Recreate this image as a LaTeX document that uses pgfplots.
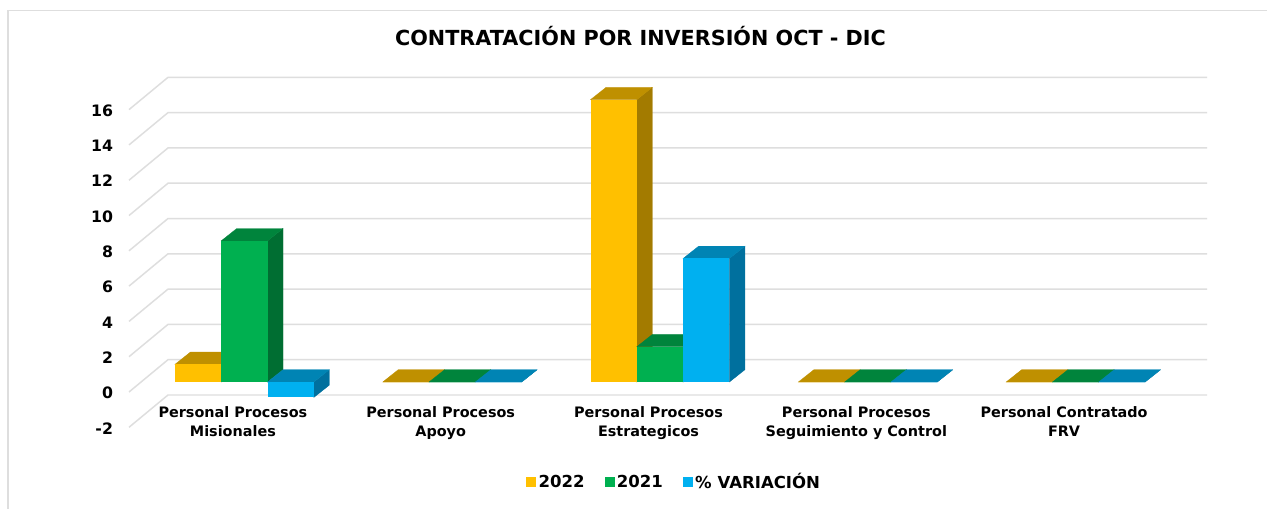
\documentclass[border=0pt]{standalone}
\usepackage{pgfplots}
\pgfplotsset{compat=1.18}
\usepackage{fontspec}
\setmainfont{DejaVu Sans}
\definecolor{yfront}{HTML}{FFC000}
\definecolor{ytop}{HTML}{BF9000}
\definecolor{yside}{HTML}{A37B00}
\definecolor{gfront}{HTML}{00B050}
\definecolor{gtop}{HTML}{00843C}
\definecolor{gside}{HTML}{006E32}
\definecolor{bfront}{HTML}{00B0F0}
\definecolor{btop}{HTML}{0084B4}
\definecolor{bside}{HTML}{00709E}
\definecolor{gridc}{HTML}{DEDEDE}

% sizes: x unit is one category (207.8 px), y unit is one value step (17.65 px)
\def\barw{0.2228}   % bar width
\def\depx{0.0746}   % bar depth, x
\def\depy{0.697}    % bar depth, y
\def\basey{0.565}   % bar plane above the front edge
\def\wallx{0.1877}  % wall depth, x
\def\wally{1.83}    % wall depth, y

% \barface{category}{series 0,1,2}{value}{colour prefix}
\newcommand{\barface}[4]{%
  \pgfmathsetmacro\xa{#1-0.279+#2*\barw}%
  \pgfmathsetmacro\xb{\xa+\barw}%
  \pgfmathsetmacro\xc{\xb+\depx}%
  \pgfmathsetmacro\xd{\xa+\depx}%
  \pgfmathsetmacro\yt{max(#3,0)+\basey}%
  \pgfmathsetmacro\yb{min(#3,0)+\basey}%
  \pgfmathsetmacro\ytt{\yt+\depy}%
  \pgfmathsetmacro\ybb{\yb+\depy}%
  \edef\temp{%
    \noexpand\addplot[forget plot, fill=#4side, draw=#4side, line width=0.2pt] coordinates {(\xb,\yb) (\xc,\ybb) (\xc,\ytt) (\xb,\yt)} -- cycle;
    \noexpand\addplot[forget plot, fill=#4top, draw=#4top, line width=0.2pt] coordinates {(\xa,\yt) (\xd,\ytt) (\xc,\ytt) (\xb,\yt)} -- cycle;
    \noexpand\addplot[forget plot, fill=#4front, draw=none] coordinates {(\xa,\yb) (\xa,\yt) (\xb,\yt) (\xb,\yb)} -- cycle;
  }\temp
}
% \gridl{value}
\newcommand{\gridl}[1]{%
  \pgfmathsetmacro\xq{-0.5+\wallx}%
  \pgfmathsetmacro\yq{#1+\wally}%
  \edef\temp{%
    \noexpand\addplot[forget plot, gridc, line width=1.1pt] coordinates {(-0.5,#1) (\xq,\yq) (4.6877,\yq)};
  }\temp
}

\begin{document}
\begin{tikzpicture}[x=0.75pt,y=0.75pt]
\fill[white] (0,0) rectangle (1267,509);
\path[use as bounding box] (0,0) rectangle (1267,509);
\draw[gridc, line width=1pt] (8,0) -- (8,498.5) -- (1267,498.5);
\node[font=\bfseries\fontsize{15.55}{20}\selectfont, text=black] at (640.5,473) {CONTRATACIÓN POR INVERSIÓN OCT - DIC};
\begin{axis}[
  at={(96.75pt,61.275pt)},
  anchor=south west,
  scale only axis,
  width=808.5pt,
  height=262.2pt,
  xmin=-0.5, xmax=4.6877,
  ymin=-2, ymax=17.81,
  clip=false,
  axis line style={draw=none},
  major tick length=0pt,
  ytick={-2,0,...,16},
  yticklabel style={font=\bfseries\fontsize{11.8}{14}\selectfont, text=black, xshift=-8.5pt, yshift=-0.7pt},
  /pgf/number format/assume math mode=true,
  xtick={0,1,2,3,4},
  xticklabels={Personal Procesos\\Misionales,Personal Procesos\\Apoyo,Personal Procesos\\Estrategicos,Personal Procesos\\Seguimiento y Control,Personal Contratado\\FRV},
  xticklabel style={font=\bfseries\fontsize{10.8}{14.2}\selectfont, text=black, align=center, yshift=19.3pt},
  legend style={at={(axis cs:2.125,-5.07)}, anchor=center, draw=none, fill=none,
    legend columns=3, font=\bfseries\fontsize{12.4}{15}\selectfont,
    /tikz/every even column/.style={column sep=13pt}},
  legend image code/.code={\fill[#1] (0,-3.4pt) rectangle (6.8pt,3.4pt);},
]
\gridl{-2}\gridl{0}\gridl{2}\gridl{4}\gridl{6}\gridl{8}\gridl{10}\gridl{12}\gridl{14}\gridl{16}

\addlegendimage{yfront}\addlegendentry{\strut 2022}
\addlegendimage{gfront}\addlegendentry{\strut 2021}
\addlegendimage{bfront}\addlegendentry{\strut\%\hspace{4.5pt}VARIACIÓN}

\barface{0}{0}{1}{y}\barface{0}{1}{8}{g}\barface{0}{2}{-0.875}{b}
\barface{1}{0}{0}{y}\barface{1}{1}{0}{g}\barface{1}{2}{0}{b}
\barface{2}{0}{16}{y}\barface{2}{1}{2}{g}\barface{2}{2}{7}{b}
\barface{3}{0}{0}{y}\barface{3}{1}{0}{g}\barface{3}{2}{0}{b}
\barface{4}{0}{0}{y}\barface{4}{1}{0}{g}\barface{4}{2}{0}{b}
\end{axis}
\end{tikzpicture}
\end{document}
